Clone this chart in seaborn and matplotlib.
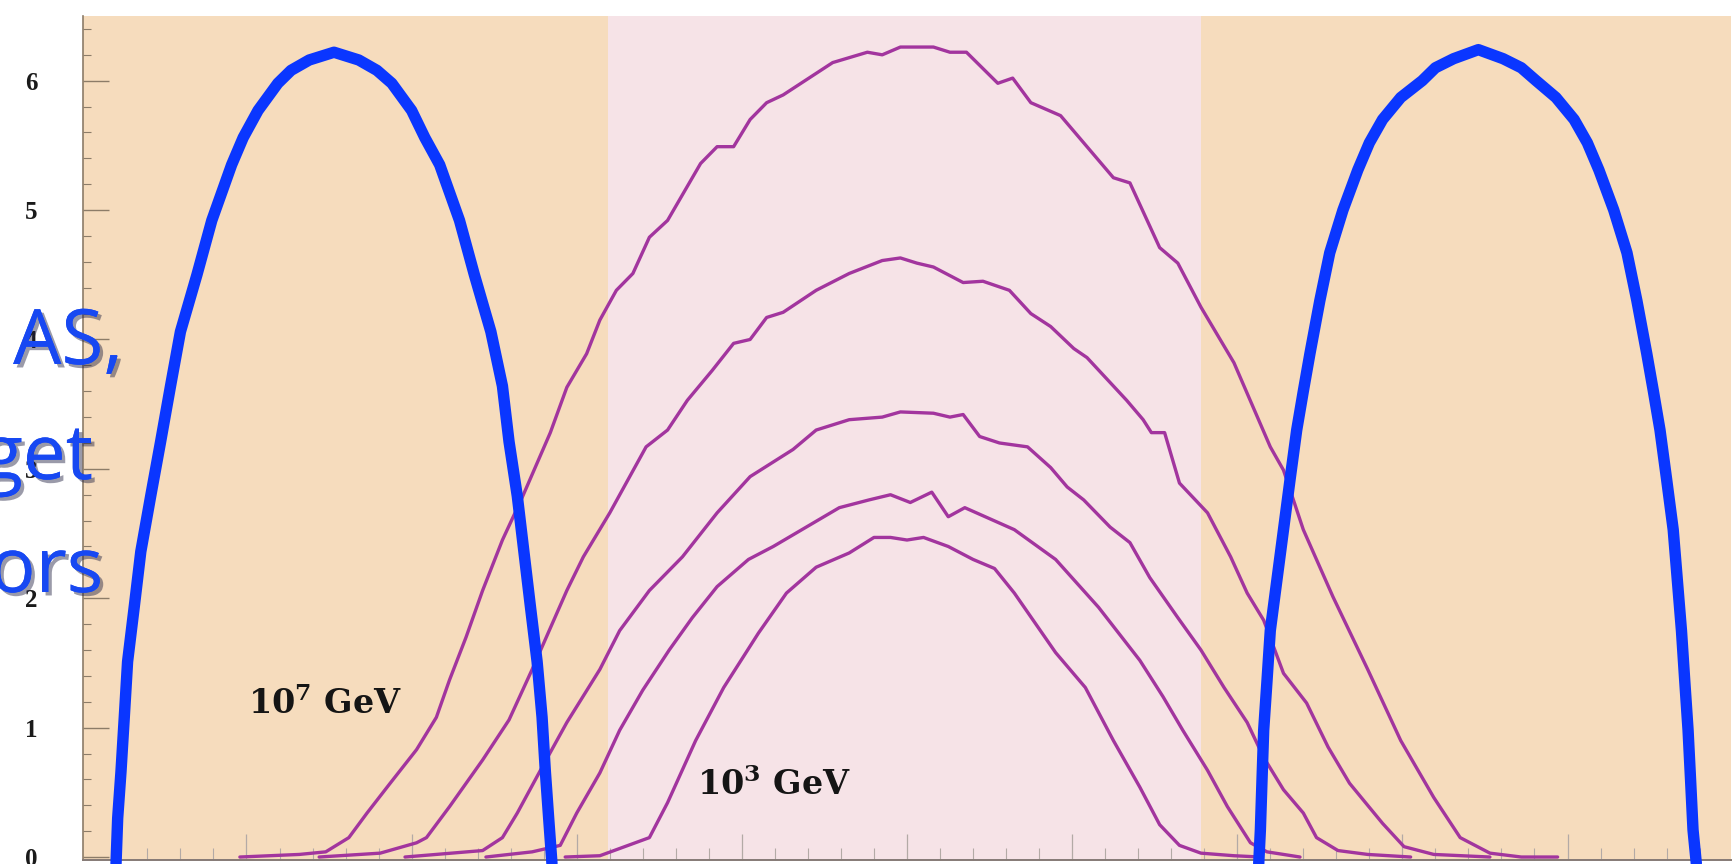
import numpy as np
import pandas as pd
import matplotlib
matplotlib.use("Agg")
import matplotlib.pyplot as plt
import matplotlib.patheffects as pe
from matplotlib.ticker import MultipleLocator, NullFormatter
import seaborn as sns

# ---------------- data ----------------
eta_1e7 = [-4.04, -3.68, -3.52, -3.38, -3.27, -3.13, -2.97, -2.85, -2.77, -2.67,
           -2.57, -2.45, -2.33, -2.16, -2.06, -1.94, -1.86, -1.76, -1.66, -1.56,
           -1.45, -1.25, -1.15, -1.05, -0.95, -0.85, -0.75, -0.45, -0.24, -0.15,
           -0.04, 0.16, 0.26, 0.36, 0.55, 0.64, 0.75, 0.93, 1.25, 1.35,
           1.53, 1.64, 1.78, 1.98, 2.20, 2.28, 2.40, 2.58, 2.79, 2.99,
           3.19, 3.35, 3.53, 3.72, 3.94]
val_1e7 = [0, 0.02, 0.04, 0.15, 0.34, 0.57, 0.83, 1.08, 1.37, 1.70,
           2.06, 2.45, 2.78, 3.28, 3.63, 3.89, 4.15, 4.38, 4.51, 4.79,
           4.92, 5.36, 5.49, 5.49, 5.70, 5.83, 5.89, 6.14, 6.22, 6.20,
           6.26, 6.26, 6.22, 6.22, 5.98, 6.02, 5.83, 5.73, 5.25, 5.21,
           4.71, 4.59, 4.25, 3.82, 3.17, 2.99, 2.53, 2.01, 1.45, 0.90,
           0.46, 0.15, 0.03, 0, 0]

eta_c2 = [-3.56, -3.19, -2.97, -2.91, -2.77, -2.57, -2.41, -2.27, -2.06, -1.96,
          -1.80, -1.58, -1.45, -1.33, -1.18, -1.05, -0.95, -0.85, -0.75, -0.55,
          -0.35, -0.15, -0.04, 0.06, 0.16, 0.34, 0.46, 0.62, 0.75, 0.87,
          1.01, 1.09, 1.33, 1.43, 1.48, 1.56, 1.65, 1.82, 1.96, 2.06,
          2.16, 2.28, 2.42, 2.55, 2.68, 2.88, 3.01, 3.19, 3.53]
val_c2 = [0, 0.03, 0.11, 0.15, 0.39, 0.75, 1.06, 1.45, 2.06, 2.32,
          2.66, 3.17, 3.30, 3.53, 3.76, 3.97, 4.00, 4.17, 4.21, 4.38,
          4.51, 4.61, 4.63, 4.59, 4.56, 4.44, 4.45, 4.38, 4.20, 4.10,
          3.93, 3.86, 3.53, 3.38, 3.28, 3.28, 2.89, 2.66, 2.32, 2.04,
          1.83, 1.42, 1.19, 0.85, 0.57, 0.26, 0.08, 0.02, 0]

eta_c3 = [-3.04, -2.57, -2.45, -2.36, -2.22, -2.06, -1.86, -1.74, -1.56, -1.36,
          -1.15, -0.95, -0.69, -0.55, -0.35, -0.15, -0.04, 0.16, 0.26, 0.34,
          0.44, 0.56, 0.73, 0.87, 0.97, 1.07, 1.23, 1.35, 1.47, 1.64,
          1.78, 1.92, 2.06, 2.16, 2.28, 2.40, 2.48, 2.61, 2.79, 3.05]
val_c3 = [0, 0.05, 0.15, 0.34, 0.67, 1.04, 1.45, 1.75, 2.06, 2.32,
          2.66, 2.94, 3.15, 3.30, 3.38, 3.40, 3.44, 3.43, 3.40, 3.42,
          3.25, 3.20, 3.17, 3.01, 2.86, 2.76, 2.55, 2.43, 2.16, 1.85,
          1.60, 1.31, 1.04, 0.77, 0.52, 0.34, 0.15, 0.05, 0.02, 0]

eta_c4 = [-2.55, -2.27, -2.10, -2.00, -1.86, -1.74, -1.60, -1.44, -1.30, -1.15,
          -0.96, -0.81, -0.61, -0.41, -0.23, -0.10, 0.02, 0.15, 0.25, 0.35,
          0.65, 0.90, 1.16, 1.41, 1.55, 1.67, 1.82, 1.94, 2.08, 2.18, 2.38]
val_c4 = [0, 0.04, 0.09, 0.34, 0.65, 0.98, 1.29, 1.60, 1.85, 2.09,
          2.30, 2.40, 2.55, 2.70, 2.76, 2.80, 2.74, 2.82, 2.63, 2.70,
          2.53, 2.30, 1.93, 1.52, 1.24, 0.98, 0.67, 0.39, 0.11, 0.04, 0]

eta_1e3 = [-2.07, -1.86, -1.56, -1.45, -1.28, -1.11, -0.90, -0.73, -0.55, -0.35,
           -0.20, -0.10, 0.00, 0.10, 0.25, 0.40, 0.53, 0.65, 0.90, 1.08,
           1.25, 1.41, 1.53, 1.65, 1.78, 1.98, 2.14]
val_1e3 = [0, 0.01, 0.15, 0.42, 0.90, 1.31, 1.73, 2.04, 2.24, 2.35,
           2.47, 2.47, 2.45, 2.47, 2.40, 2.30, 2.23, 2.04, 1.58, 1.31,
           0.90, 0.54, 0.25, 0.09, 0.03, 0.01, 0]

# hand-drawn blue arches (annotation)
arch_left_eta = [-4.79, -4.78, -4.76, -4.74, -4.72, -4.68, -4.64, -4.58, -4.52, -4.46,
                 -4.40, -4.30, -4.21, -4.09, -4.02, -3.93, -3.81, -3.73, -3.62, -3.47,
                 -3.32, -3.21, -3.12, -3.00, -2.92, -2.83, -2.71, -2.62, -2.52, -2.45,
                 -2.41, -2.36, -2.32, -2.28, -2.24, -2.21, -2.19, -2.17, -2.15]
arch_left_val = [-0.05, 0.30, 0.66, 1.08, 1.51, 1.93, 2.36, 2.79, 3.21, 3.64,
                 4.06, 4.50, 4.92, 5.35, 5.56, 5.77, 5.98, 6.08, 6.16, 6.22,
                 6.16, 6.08, 5.98, 5.77, 5.56, 5.35, 4.92, 4.50, 4.06, 3.64,
                 3.21, 2.79, 2.36, 1.93, 1.51, 1.08, 0.66, 0.30, -0.05]
arch_right_eta = [2.13, 2.14, 2.15, 2.16, 2.18, 2.20, 2.24, 2.28, 2.32, 2.36,
                  2.40, 2.44, 2.50, 2.56, 2.64, 2.73, 2.80, 2.88, 2.99, 3.12,
                  3.20, 3.31, 3.46, 3.61, 3.72, 3.81, 3.93, 4.04, 4.12, 4.19,
                  4.28, 4.36, 4.42, 4.48, 4.52, 4.56, 4.60, 4.64, 4.665, 4.69,
                  4.71, 4.73, 4.745, 4.76, 4.78]
arch_right_val = [-0.05, 0.21, 0.60, 0.98, 1.36, 1.75, 2.14, 2.53, 2.92, 3.30,
                  3.60, 3.89, 4.30, 4.67, 5.00, 5.31, 5.52, 5.70, 5.87, 6.00,
                  6.10, 6.17, 6.24, 6.17, 6.10, 6.00, 5.87, 5.70, 5.52, 5.31,
                  5.00, 4.67, 4.30, 3.89, 3.60, 3.30, 2.92, 2.53, 2.14, 1.75,
                  1.36, 0.98, 0.60, 0.21, -0.05]

band_eta = (-1.81, 1.78)
y_ticks = [0, 1, 2, 3, 4, 5, 6]
y_ticklabels = ["0", "1", "2", "3", "4", "5", "6"]
label_hi = r"10$^{\mathbf{7}}$ GeV"
label_lo = r"10$^{\mathbf{3}}$ GeV"
hand_words = ["AS,", "get", "ors"]

# ---------------- styling ----------------
sns.set_theme(style="white")
plt.rcParams["font.family"] = ["DejaVu Sans"]
plt.rcParams["mathtext.fontset"] = "dejavuserif"

PEACH = "#f6dcbd"
PINK = "#f6e3e7"
MAG = "#a2359e"
BLUE = "#0a36ff"

fig = plt.figure(figsize=(17.35, 8.64), dpi=100)
fig.patch.set_facecolor("white")
ax = fig.add_axes([83 / 1735, 4 / 864, (1731 - 83) / 1735, (860 - 16) / 864])
ax.set_facecolor(PEACH)
ax.set_xlim(-4.99, 4.99)
ax.set_ylim(-0.023, 6.50)

ax.axvspan(band_eta[0], band_eta[1], color=PINK, lw=0, zorder=0.5)

curves = [(eta_1e7, val_1e7), (eta_c2, val_c2), (eta_c3, val_c3),
          (eta_c4, val_c4), (eta_1e3, val_1e3)]
for e, v in curves:
    sns.lineplot(x=e, y=v, ax=ax, color=MAG, lw=2.4, sort=False,
                 estimator=None, zorder=2)

for e, v in [(arch_left_eta, arch_left_val), (arch_right_eta, arch_right_val)]:
    sns.lineplot(x=e, y=v, ax=ax, color=BLUE, lw=8.2, sort=False,
                 estimator=None, zorder=5)
for line in ax.lines[-2:]:
    line.set_clip_on(False)
    line.set_solid_joinstyle("round")

# spines and ticks
for s in ["top", "right"]:
    ax.spines[s].set_visible(False)
ax.spines["left"].set_color("#8c7c68")
ax.spines["left"].set_linewidth(1.2)
ax.spines["bottom"].set_color("#857a76")
ax.spines["bottom"].set_linewidth(1.4)

ax.yaxis.set_minor_locator(MultipleLocator(0.2))
ax.set_yticks(y_ticks)
ax.set_yticklabels(y_ticklabels)
ax.xaxis.set_major_locator(MultipleLocator(1))
ax.xaxis.set_minor_locator(MultipleLocator(0.2))
ax.xaxis.set_major_formatter(NullFormatter())

ax.tick_params(axis="y", which="major", direction="in", length=19, width=1.0,
               color="#8c7c68", pad=33, left=True)
ax.tick_params(axis="y", which="minor", direction="in", length=6, width=0.8,
               color="#8c7c68", left=True)
ax.tick_params(axis="x", which="major", direction="in", length=19, width=0.9,
               color="#b3aaa6", bottom=True)
ax.tick_params(axis="x", which="minor", direction="in", length=9, width=0.8,
               color="#b3aaa6", bottom=True)
for t in ax.get_yticklabels():
    t.set_fontfamily("Liberation Serif")
    t.set_fontweight("bold")
    t.set_fontsize(18)
    t.set_color("#1a1a1a")

ax.set_xlabel("")
ax.set_ylabel("")

# curve labels
ax.text(-3.99, 1.18, label_hi, fontfamily="DejaVu Serif", fontweight="bold",
        fontsize=24, color="#151515", ha="left", va="center", zorder=4)
ax.text(-1.27, 0.56, label_lo, fontfamily="DejaVu Serif", fontweight="bold",
        fontsize=24, color="#151515", ha="left", va="center", zorder=4)

# handwritten-style annotation (cut at the left edge)
shadow = [pe.withSimplePatchShadow(offset=(2.5, -2.5), shadow_rgbFace="#202040",
                                   alpha=0.45), pe.Normal()]
hand_pos = [(123, 364), (93, 479), (103, 592)]
for word, (xr, yb) in zip(hand_words, hand_pos):
    fig.text(xr / 1735, 1 - yb / 864, word, fontfamily="Open Sans",
             fontsize=55, color="#1748f2", ha="right", va="baseline",
             path_effects=shadow, zorder=10)

fig.savefig("out.png", dpi=100, facecolor="white")
